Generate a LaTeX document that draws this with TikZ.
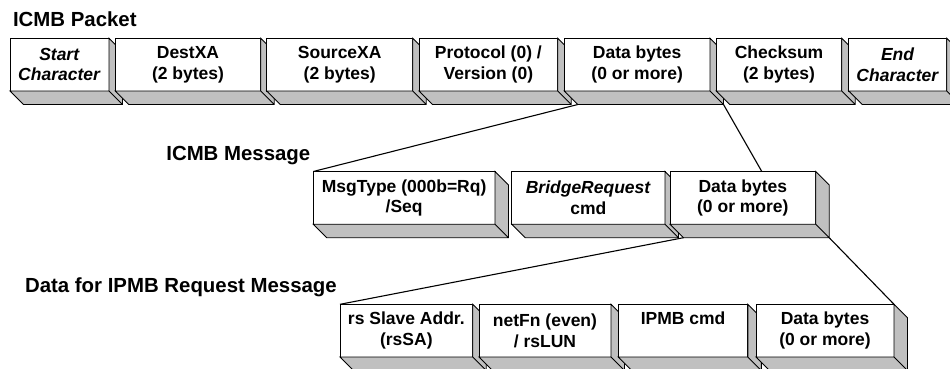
\documentclass[tikz,border=0pt]{standalone}
\usepackage{fontspec}
\setmainfont{Liberation Sans}
\usetikzlibrary{positioning, calc}

\definecolor{slabgray}{RGB}{192,192,192}
\newcommand{\slabdepth}{13.5}
\newcommand{\slab}[1]{%
  \filldraw[fill=slabgray]
    (#1.north east) -- ++(\slabdepth,\slabdepth)
    -- ([shift={(\slabdepth,\slabdepth)}]#1.south east)
    -- ([shift={(\slabdepth,\slabdepth)}]#1.south west)
    -- (#1.south west) -- (#1.south east) -- cycle
    (#1.south east) -- ++(\slabdepth,\slabdepth);}

\begin{document}
\begin{tikzpicture}
[x=1pt, y=-1pt, line width=0.9pt,
                    field/.style={draw, fill=white, inner sep=0pt, outer sep=0pt,
                    minimum height=52.7pt, align=center,
                    font=\fontsize{17.5}{20.5}\selectfont\bfseries,
                    execute at begin node={\rule{0pt}{16.4pt}}},
                    heading/.style={anchor=base west, inner sep=0pt,
                    font=\fontsize{20.4}{24}\selectfont\bfseries},
                    zoomline/.style={line width=1.1pt}]

\useasboundingbox (0,0) rectangle (950,369);
\clip (0,0) rectangle (950,369);

\node[heading] (tpacket) at (12.6,27) {ICMB Packet};
\node[heading] (tmessage) at (165.9,160) {ICMB Message};
\node[heading] (tdata) at (24.6,292.7) {Data for IPMB Request Message};

\node[field, minimum width=99pt, anchor=north west] (pstart) at (10,38.3) {\textit{Start}\\\textit{Character}};
\slab{pstart}
\node[field, minimum width=145.4pt, right=6.3pt of pstart] (pdest) {DestXA\\(2 bytes)};
\slab{pdest}
\node[field, minimum width=146pt, right=6pt of pdest] (psrc) {SourceXA\\(2 bytes)};
\slab{psrc}
\node[field, minimum width=138.7pt, right=6.3pt of psrc] (pproto) {Protocol (0) /\\Version (0)};
\slab{pproto}
\node[field, minimum width=145.7pt, right=6.6pt of pproto] (pdata) {Data bytes\\(0 or more)};
\slab{pdata}
\node[field, minimum width=125.4pt, right=6.3pt of pdata] (pcheck) {Checksum\\(2 bytes)};
\slab{pcheck}
\node[field, minimum width=98pt, right=7pt of pcheck] (pend) {\textit{End}\\\textit{Character}};
\slab{pend}

\node[field, minimum width=181.7pt, anchor=north west] (mtype) at (313.3,171.5) {MsgType (000b=Rq)\\/Seq};
\slab{mtype}
\node[field, minimum width=153.3pt, right=16.7pt of mtype] (mcmd) {\textit{BridgeRequest}\\cmd};
\slab{mcmd}
\node[field, minimum width=145.7pt, right=5pt of mcmd] (mdata) {Data bytes\\(0 or more)};
\slab{mdata}

\node[field, minimum width=132.7pt, anchor=north west] (rsa) at (340,304.3) {rs Slave Addr.\\(rsSA)};
\slab{rsa}
\node[field, minimum width=132pt, right=6.3pt of rsa] (rnetfn) {netFn (even)\\/ rsLUN};
\slab{rnetfn}
\node[field, minimum width=129.5pt, right=7.3pt of rnetfn] (rcmd) {IPMB cmd\\\phantom{(}};
\slab{rcmd}
\node[field, minimum width=138pt, right=8.2pt of rcmd] (rdata) {Data bytes\\(0 or more)};
\slab{rdata}

\draw[zoomline] ([shift={(\slabdepth,\slabdepth)}]pdata.south west) -- (mtype.north west);
\draw[zoomline] ([shift={(\slabdepth,\slabdepth)}]pdata.south east) -- ($(mdata.north west)!0.63!(mdata.north east)$);
\draw[zoomline] ([shift={(\slabdepth,\slabdepth)}]mdata.south west) -- (rsa.north west);
\draw[zoomline] ([shift={(\slabdepth,\slabdepth)}]mdata.south east) -- (rdata.north east);
\end{tikzpicture}
\end{document}
